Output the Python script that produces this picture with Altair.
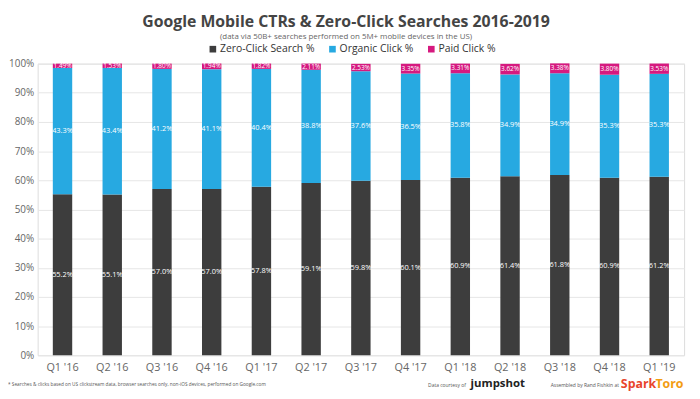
import altair as alt
import pandas as pd

quarters = ["Q1 '16", "Q2 '16", "Q3 '16", "Q4 '16", "Q1 '17", "Q2 '17", "Q3 '17",
            "Q4 '17", "Q1 '18", "Q2 '18", "Q3 '18", "Q4 '18", "Q1 '19"]
zero_click = [55.2, 55.1, 57.0, 57.0, 57.8, 59.1, 59.8, 60.1, 60.9, 61.4, 61.8, 60.9, 61.2]
organic = [43.3, 43.4, 41.2, 41.1, 40.4, 38.8, 37.6, 36.5, 35.8, 34.9, 34.9, 35.3, 35.3]
paid = [1.49, 1.53, 1.80, 1.94, 1.82, 2.11, 2.53, 3.35, 3.31, 3.62, 3.38, 3.80, 3.53]

series = ["Zero-Click Search %", "Organic Click %", "Paid Click %"]
colors = ["#3d3d3d", "#27a9e1", "#d6197f"]
FONT = "Open Sans"

rows = []
for i, q in enumerate(quarters):
    cum = 0.0
    for k, (name, vals, fmt) in enumerate(zip(series, [zero_click, organic, paid], ["{:.1f}", "{:.1f}", "{:.2f}"])):
        v = vals[i]
        rows.append({"quarter": q, "series": name, "value": v, "order": k,
                     "mid": cum + v / 2, "label": fmt.format(v) + "%",
                     "size": 6.5 if k == 2 else 7.5})
        cum += v
df = pd.DataFrame(rows)

x_enc = alt.X("quarter:N", sort=quarters,
              scale=alt.Scale(paddingInner=0.61, paddingOuter=0.305),
              axis=alt.Axis(title=None, labelAngle=0, domain=False, ticks=False,
                            labelColor="#666666", labelFontSize=11, labelPadding=6,
                            labelFont=FONT))

y_axis = alt.Axis(title=None, values=list(range(0, 101, 10)),
                  labelExpr="datum.value + '%'", domain=False, ticks=False,
                  gridColor="#e6e6e6", labelColor="#666666", labelFontSize=10,
                  labelPadding=4, labelFont=FONT)
y_scale = alt.Scale(domain=[0, 100], nice=False)

bars = alt.Chart(df).mark_bar().encode(
    x=x_enc,
    y=alt.Y("value:Q", stack="zero", scale=y_scale, axis=y_axis),
    color=alt.Color("series:N", sort=series,
                    scale=alt.Scale(domain=series, range=colors),
                    legend=alt.Legend(title=None, orient="none", direction="horizontal",
                                      legendX=172, legendY=-20, symbolType="square",
                                      symbolSize=45, labelFontSize=10.5, labelColor="#333333",
                                      labelFont=FONT, columnPadding=12, symbolOffset=0,
                                      labelOffset=2)),
    order=alt.Order("order:Q"),
)

labels = alt.Chart(df).mark_text(color="white", baseline="middle", font=FONT).encode(
    x=alt.X("quarter:N", sort=quarters),
    y=alt.Y("mid:Q", scale=y_scale, axis=y_axis),
    text="label:N",
    size=alt.Size("size:Q", scale=None, legend=None),
)

notes_df = pd.DataFrame([
    {"t": "* Searches & clicks based on US clickstream data, browser searches only, non-iOS devices, performed on Google.com",
     "px": -30, "fs": 4.8, "c": "#555555"},
    {"t": "Data courtesy of", "px": 395, "fs": 5, "c": "#555555"},
    {"t": "Assembled by Rand Fishkin at", "px": 519, "fs": 5, "c": "#555555"},
])
notes = alt.Chart(notes_df).mark_text(align="left", baseline="middle", font=FONT).encode(
    x=alt.X("px:Q", scale=None),
    y=alt.value(325),
    text="t:N",
    size=alt.Size("fs:Q", scale=None, legend=None),
    color=alt.Color("c:N", scale=None, legend=None),
)

logo_df = pd.DataFrame([
    {"t": "jumpshot", "px": 438, "c": "#222222", "fs": 11.5},
    {"t": "Spark", "px": 590, "c": "#e8452c", "fs": 12.5},
    {"t": "Toro", "px": 625, "c": "#f39c12", "fs": 12.5},
])
logos = alt.Chart(logo_df).mark_text(align="left", baseline="middle", font=FONT,
                                     fontWeight="bold").encode(
    x=alt.X("px:Q", scale=None),
    y=alt.value(324),
    text="t:N",
    size=alt.Size("fs:Q", scale=None, legend=None),
    color=alt.Color("c:N", scale=None, legend=None),
)

chart = alt.layer(bars, labels, notes, logos).properties(
    width=654, height=295,
    autosize=alt.AutoSizeParams(type="none"),
    padding={"left": 30, "top": 54, "right": 8, "bottom": 42},
    title=alt.TitleParams(
        text="Google Mobile CTRs & Zero-Click Searches 2016-2019",
        subtitle="(data via 50B+ searches performed on 5M+ mobile devices in the US)",
        fontSize=16, font=FONT, fontWeight="bold", color="#444444",
        subtitleFontSize=8, subtitleColor="#666666", subtitleFont=FONT,
        subtitlePadding=3, anchor="middle", dx=-15, offset=3,
    ),
).configure_view(stroke=None).configure(background="white")

chart.save("out.html", embed_options={"renderer": "svg", "actions": False})
